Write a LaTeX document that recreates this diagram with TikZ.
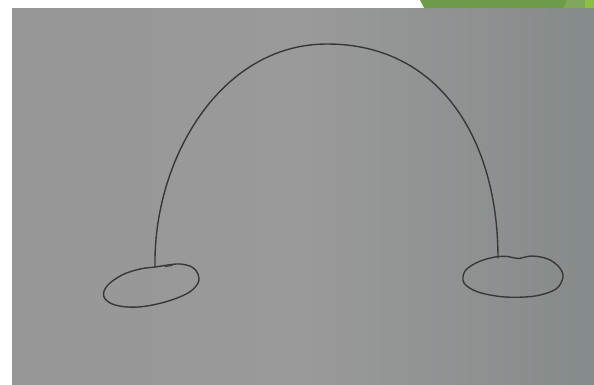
\documentclass[tikz,border=0pt]{standalone}
\definecolor{paperL}{HTML}{979797}
\definecolor{paperR}{HTML}{858B8A}
\definecolor{paperM}{HTML}{9A9A9A}
\definecolor{ink}{HTML}{383838}
\definecolor{leafG}{HTML}{6E9B4A}
\definecolor{leafL}{HTML}{7FA85A}
\definecolor{leafB}{HTML}{8CBF3F}
\tikzset{
  pen/.style={draw=ink, line width=1.4pt, line cap=round, line join=round},
}
\begin{document}
\begin{tikzpicture}[x=1pt,y=-1pt]
\useasboundingbox (0,0) rectangle (594,384);
\fill[white] (0,0) rectangle (594,384);
% paper
\shade[left color=paperL, right color=paperR, middle color=paperM] (12,8) rectangle (594,384);
% green band at the top
\fill[leafG] (420,0) -- (594,0) -- (594,8) -- (424,8) -- cycle;
\fill[leafL] (567,0) -- (585,0) -- (585,8) -- (563,8) -- cycle;
\fill[leafB] (585,0) -- (594,0) -- (594,8) -- (585,8) -- cycle;
% arch
\coordinate (archL) at (155,267);
\coordinate (archTop) at (327,44);
\coordinate (archR) at (498,258);
\draw[pen] (archL) .. controls (153,160) and (220,44) .. (archTop)
  .. controls (440,44) and (498,140) .. (archR);
% left ellipse
\draw[pen] plot[smooth cycle, tension=0.6] coordinates {
  (155,267) (168,265) (180,264) (192,267) (198,274) (198,283) (188,293)
  (165,302) (138,307) (115,305) (104,297) (107,286) (122,275) (140,269)};
\draw[pen, line width=1.1pt] (165,266.5) -- (172,265.5);
% right ellipse
\draw[pen] plot[smooth cycle, tension=0.55] coordinates {
  (518,258.5) (532,256) (548,259) (559,267) (563,277) (556,289) (535,296)
  (505,297) (478,292) (464,283) (465,271) (478,262) (495,257) (508,256.5)};
\end{tikzpicture}
\end{document}
